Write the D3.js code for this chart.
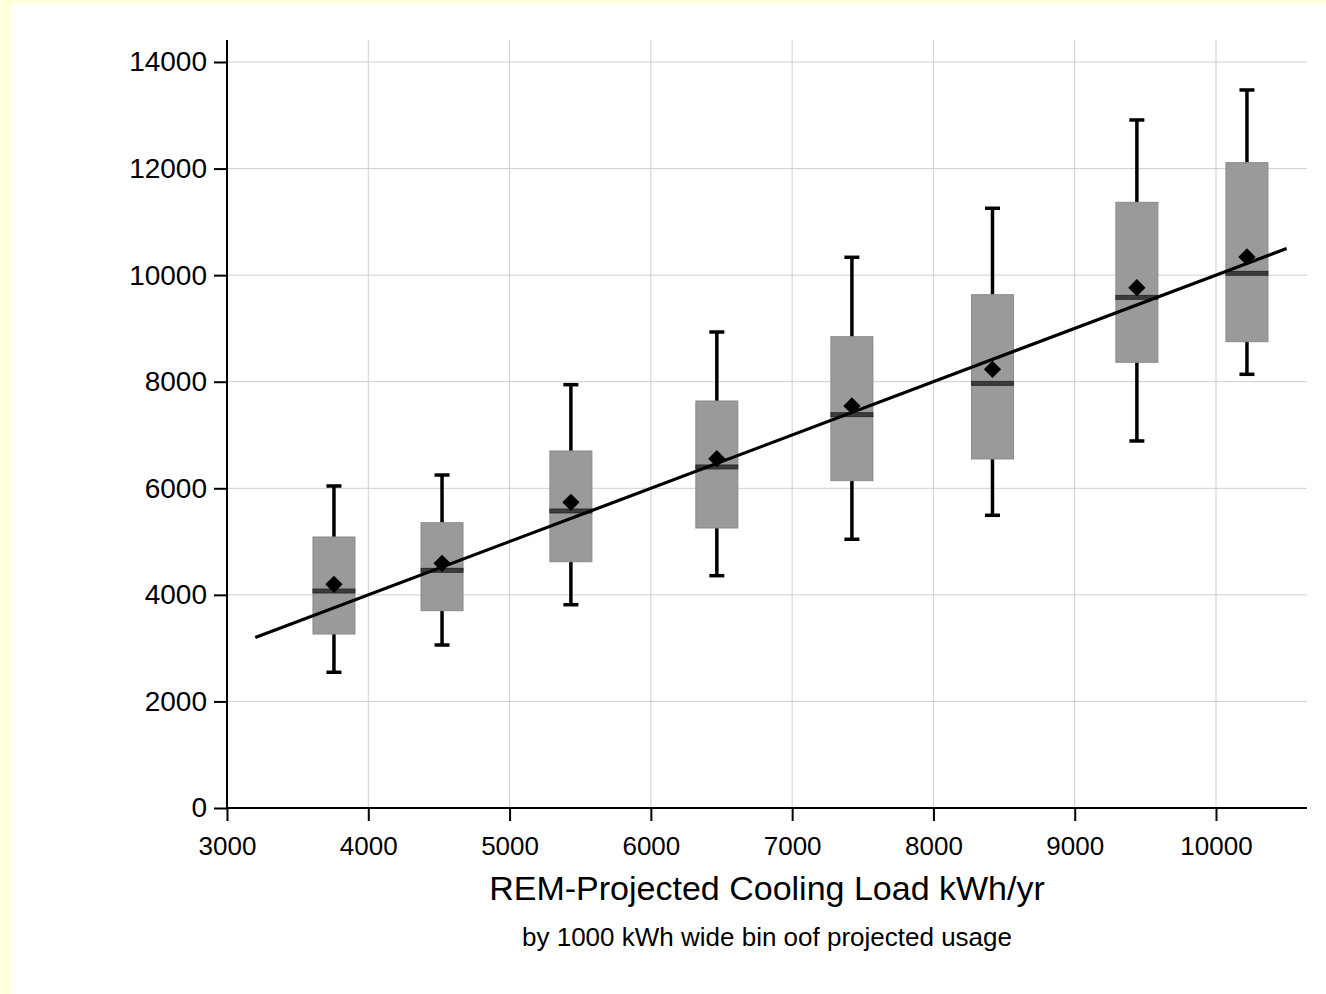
<!DOCTYPE html>
<html>
<head>
<meta charset="utf-8">
<script src="https://cdn.jsdelivr.net/npm/d3@7"></script>
<style>
  body { margin: 0; background: #ffffdd; }
  svg { display: block; }
  text { font-family: "Liberation Sans", Arial, sans-serif; fill: #000; }
</style>
</head>
<body>
<svg id="chart" width="1326" height="994"></svg>
<script>
// bin centres (kWh/yr) and box statistics
var binCenter = [3757, 4522, 5434, 6467, 7423, 8418, 9440, 10219];
var whiskerLow = [2547, 3059, 3815, 4360, 5043, 5493, 6888, 8139];
var q1 = [3265, 3703, 4622, 5255, 6143, 6550, 8365, 8751];
var median = [4072, 4461, 5574, 6400, 7381, 7970, 9584, 10035];
var mean = [4198, 4592, 5737, 6555, 7545, 8233, 9765, 10341];
var q3 = [5086, 5354, 6700, 7638, 8845, 9633, 11367, 12111];
var whiskerHigh = [6043, 6249, 7944, 8933, 10335, 11255, 12912, 13475];

// fitted line end points
var fitX = [3200, 10500];
var fitY = [3200, 10500];

var xTicks = [3000, 4000, 5000, 6000, 7000, 8000, 9000, 10000];
var yTicks = [0, 2000, 4000, 6000, 8000, 10000, 12000, 14000];

var xTitle = "REM-Projected Cooling Load kWh/yr";
var subTitle = "by 1000 kWh wide bin oof projected usage";

var svg = d3.select("#chart");

// white plot panel on the yellow page
svg.append("rect")
    .attr("x", 11)
    .attr("y", 4)
    .attr("width", 1326 - 11)
    .attr("height", 994 - 4)
    .attr("fill", "#ffffff");

var x = d3.scaleLinear().domain([3000, 10000]).range([227, 1216]);
var y = d3.scaleLinear().domain([0, 14000]).range([808, 62]);
var xEnd = 1307;
var yTop = 40;

// grid
svg.append("g")
    .selectAll("line")
    .data(yTicks.slice(1))
    .enter()
    .append("line")
    .attr("x1", x(3000))
    .attr("x2", xEnd)
    .attr("y1", function (d) { return y(d); })
    .attr("y2", function (d) { return y(d); })
    .attr("stroke", "#cfcfcf")
    .attr("stroke-width", 1);

svg.append("g")
    .selectAll("line")
    .data(xTicks.slice(1))
    .enter()
    .append("line")
    .attr("x1", function (d) { return x(d); })
    .attr("x2", function (d) { return x(d); })
    .attr("y1", yTop)
    .attr("y2", y(0))
    .attr("stroke", "#cfcfcf")
    .attr("stroke-width", 1);

// axes
var fmt = d3.format("d");
var xAxis = d3.axisBottom(x).tickValues(xTicks).tickFormat(fmt)
    .tickSize(13).tickPadding(16).tickSizeOuter(0);
var gx = svg.append("g").attr("transform", "translate(0," + y(0) + ")").call(xAxis);
gx.select(".domain").remove();
gx.selectAll(".tick line").attr("stroke", "#000").attr("stroke-width", 2);
gx.selectAll(".tick text")
    .attr("font-size", "26px")
    .attr("fill", "#000");

var yAxis = d3.axisLeft(y).tickValues(yTicks).tickFormat(fmt)
    .tickSize(13).tickPadding(7).tickSizeOuter(0);
var gy = svg.append("g").attr("transform", "translate(" + x(3000) + ",0)").call(yAxis);
gy.select(".domain").remove();
gy.selectAll(".tick line").attr("stroke", "#000").attr("stroke-width", 2);
gy.selectAll(".tick text")
    .attr("font-size", "28px")
    .attr("fill", "#000");

svg.append("line")
    .attr("x1", x(3000)).attr("x2", xEnd)
    .attr("y1", y(0)).attr("y2", y(0))
    .attr("stroke", "#000").attr("stroke-width", 2);
svg.append("line")
    .attr("x1", x(3000)).attr("x2", x(3000))
    .attr("y1", yTop).attr("y2", y(0) + 1)
    .attr("stroke", "#000").attr("stroke-width", 2);

// boxes
var boxW = 42;
var capW = 15;
var lw = 3.5;
var boxes = svg.append("g");

binCenter.forEach(function (c, i) {
    var cx = x(c);
    // whiskers
    boxes.append("line")
        .attr("x1", cx).attr("x2", cx)
        .attr("y1", y(whiskerHigh[i])).attr("y2", y(q3[i]))
        .attr("stroke", "#000").attr("stroke-width", lw);
    boxes.append("line")
        .attr("x1", cx).attr("x2", cx)
        .attr("y1", y(q1[i])).attr("y2", y(whiskerLow[i]))
        .attr("stroke", "#000").attr("stroke-width", lw);
    boxes.append("line")
        .attr("x1", cx - capW / 2).attr("x2", cx + capW / 2)
        .attr("y1", y(whiskerHigh[i])).attr("y2", y(whiskerHigh[i]))
        .attr("stroke", "#000").attr("stroke-width", lw);
    boxes.append("line")
        .attr("x1", cx - capW / 2).attr("x2", cx + capW / 2)
        .attr("y1", y(whiskerLow[i])).attr("y2", y(whiskerLow[i]))
        .attr("stroke", "#000").attr("stroke-width", lw);
    // box
    boxes.append("rect")
        .attr("x", cx - boxW / 2)
        .attr("y", y(q3[i]))
        .attr("width", boxW)
        .attr("height", y(q1[i]) - y(q3[i]))
        .attr("fill", "#9a9a9a")
        .attr("stroke", "#8a8a8a")
        .attr("stroke-width", 1);
    // median band
    boxes.append("rect")
        .attr("x", cx - boxW / 2)
        .attr("y", y(median[i]) - 2)
        .attr("width", boxW)
        .attr("height", 4)
        .attr("fill", "#3c3c3c")
        .attr("stroke", "#222222")
        .attr("stroke-width", 0.8);
});

// fitted line
var line = d3.line()
    .x(function (d) { return x(d[0]); })
    .y(function (d) { return y(d[1]); });
svg.append("path")
    .datum(fitX.map(function (v, i) { return [v, fitY[i]]; }))
    .attr("d", line)
    .attr("fill", "none")
    .attr("stroke", "#000")
    .attr("stroke-width", 3.2);

// means
svg.append("g")
    .selectAll("path")
    .data(binCenter)
    .enter()
    .append("path")
    .attr("d", d3.symbol().type(d3.symbolDiamond2).size(190))
    .attr("transform", function (d, i) {
        return "translate(" + x(d) + "," + y(mean[i]) + ")";
    })
    .attr("fill", "#000");

// titles
svg.append("text")
    .attr("x", 767)
    .attr("y", 900)
    .attr("text-anchor", "middle")
    .attr("font-size", "34px")
    .text(xTitle);

svg.append("text")
    .attr("x", 767)
    .attr("y", 946)
    .attr("text-anchor", "middle")
    .attr("font-size", "26px")
    .text(subTitle);
</script>
</body>
</html>
